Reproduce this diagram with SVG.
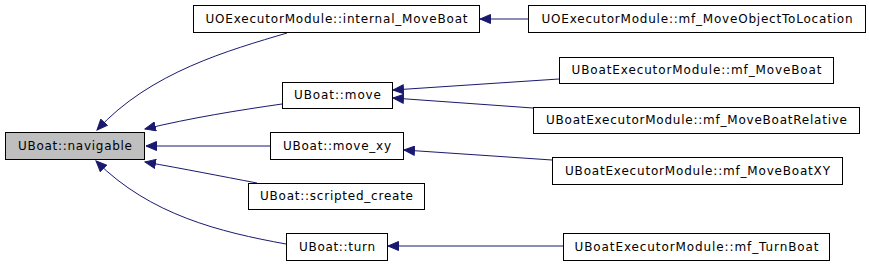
<svg xmlns="http://www.w3.org/2000/svg" width="869" height="265" viewBox="0 0 869 265">
<style>
rect{fill:#fff;stroke:#000;stroke-width:1}
#n0 rect{fill:#bfbfbf}
text{font-family:"DejaVu Sans",sans-serif;font-size:12px;text-anchor:middle;fill:#000}
.e path{fill:none;stroke:#191970;stroke-width:1}
</style>
<defs>
<marker id="a" markerUnits="userSpaceOnUse" markerWidth="12" markerHeight="10" refX="11" refY="5" orient="auto">
<path d="M0.5,0.5 L11,5 L0.5,9.5 z" fill="#191970" stroke="#191970"/>
</marker>
</defs>
<g class="e" id="edges">
<path d="M287,33 C230,50 150,72 97,130" marker-end="url(#a)"/>
<path d="M282,104 C240,110 190,118 145,129" marker-end="url(#a)"/>
<path d="M270,146 L146,146" marker-end="url(#a)"/>
<path d="M257,183 C220,176 185,169 145,162" marker-end="url(#a)"/>
<path d="M286,244 C220,232 150,215 96,161" marker-end="url(#a)"/>
<path d="M528,19 L480,19" marker-end="url(#a)"/>
<path d="M559,79 L393,90" marker-end="url(#a)"/>
<path d="M533,108 L393,98" marker-end="url(#a)"/>
<path d="M552,160 L404,150" marker-end="url(#a)"/>
<path d="M563,246 L388,246" marker-end="url(#a)"/>
</g>
<g id="n0"><rect x="5.5" y="132.5" width="139" height="27"/><text x="75" y="149.5" textLength="114" lengthAdjust="spacing">UBoat::navigable</text></g>
<g id="n1"><rect x="193.5" y="5.5" width="286" height="27"/><text x="336.5" y="22.5" textLength="262" lengthAdjust="spacing">UOExecutorModule::internal_MoveBoat</text></g>
<g id="n2"><rect x="528.5" y="5.5" width="337" height="27"/><text x="697" y="22.5" textLength="311" lengthAdjust="spacing">UOExecutorModule::mf_MoveObjectToLocation</text></g>
<g id="n3"><rect x="282.5" y="82.5" width="110" height="26"/><text x="337.5" y="99" textLength="87" lengthAdjust="spacing">UBoat::move</text></g>
<g id="n4"><rect x="270.5" y="132.5" width="133" height="27"/><text x="337" y="149.5" textLength="108" lengthAdjust="spacing">UBoat::move_xy</text></g>
<g id="n5"><rect x="248.5" y="183.5" width="176" height="26"/><text x="336.5" y="200" textLength="153" lengthAdjust="spacing">UBoat::scripted_create</text></g>
<g id="n6"><rect x="286.5" y="233.5" width="101" height="27"/><text x="337" y="250.5" textLength="76" lengthAdjust="spacing">UBoat::turn</text></g>
<g id="n7"><rect x="559.5" y="57.5" width="274" height="26"/><text x="696.5" y="74" textLength="250" lengthAdjust="spacing">UBoatExecutorModule::mf_MoveBoat</text></g>
<g id="n8"><rect x="533.5" y="107.5" width="326" height="26"/><text x="696.5" y="124" textLength="301" lengthAdjust="spacing">UBoatExecutorModule::mf_MoveBoatRelative</text></g>
<g id="n9"><rect x="552.5" y="157.5" width="290" height="27"/><text x="697.5" y="174.5" textLength="265" lengthAdjust="spacing">UBoatExecutorModule::mf_MoveBoatXY</text></g>
<g id="n10"><rect x="563.5" y="233.5" width="266" height="27"/><text x="696.5" y="250.5" textLength="244" lengthAdjust="spacing">UBoatExecutorModule::mf_TurnBoat</text></g>
</svg>
